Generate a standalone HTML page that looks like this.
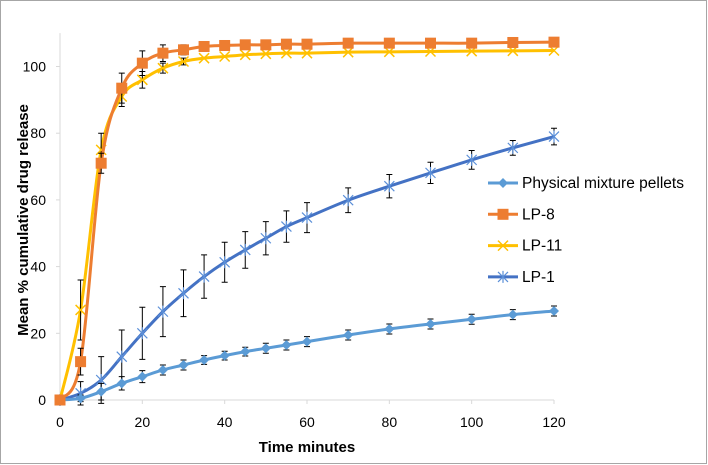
<!DOCTYPE html>
<html><head><meta charset="utf-8"><style>
body{margin:0;background:#fff;}
svg{display:block;font-family:"Liberation Sans",sans-serif;}
</style></head><body>
<svg id="chart" width="708" height="465">
<rect x="0.5" y="0.5" width="706" height="463" fill="#fff" stroke="#a6a6a6"/>
<g id="axes"></g><g id="plot"></g><g id="legend"></g>
<text x="28" y="220" font-size="15" font-weight="bold" text-anchor="middle" transform="rotate(-90 28 220)">Mean % cumulative drug release</text>
<text x="307" y="452" font-size="15" font-weight="bold" text-anchor="middle">Time minutes</text>
</svg>
<script>
const times=[0,5,10,15,20,25,30,35,40,45,50,55,60,70,80,90,100,110,120];
const pmVals=[0,0.5,2.5,5,7,9,10.5,12,13.3,14.5,15.5,16.5,17.5,19.5,21.3,22.8,24.2,25.6,26.7];
const pmErr=[0,1,2.5,2,1.8,1.5,1.5,1.3,1.3,1.3,1.5,1.5,1.5,1.5,1.5,1.5,1.5,1.5,1.5];
const lp8Vals=[0,11.5,71,93.5,101,104,105,106,106.3,106.5,106.5,106.7,106.7,107,107,107,107,107.2,107.3];
const lp8Err=[0,4,3,4.5,3.7,2.5,1.5,0,0,0,0,0,0,0,0,0,0,0,0];
const lp11Vals=[0,27,75,91,96,99.5,101.5,102.5,103,103.5,103.8,104,104,104.3,104.4,104.5,104.6,104.7,104.8];
const lp11Err=[0,9,5,3,2.5,1.5,1,0,0,0,0,0,0,0,0,0,0,0,0];
const lp1Vals=[0,2,6,13,20,26.5,32,37,41.3,45,48.5,52,54.7,59.9,64.1,68.1,72,75.6,79];
const lp1Err=[0,3.5,7,8,7.8,7.5,7,6.5,6,5.5,5,4.7,4.5,3.7,3.5,3.2,2.8,2.2,2.5];
const xTicks=[0,20,40,60,80,100,120];
const yTicks=[0,20,40,60,80,100];
const NS='http://www.w3.org/2000/svg';
const X=v=>60+v*(494/120);
const Y=v=>400-v*3.335;
function mk(t,a,p){const e=document.createElementNS(NS,t);for(const k in a)e.setAttribute(k,a[k]);(p||document.getElementById('plot')).appendChild(e);return e;}
const ax=document.getElementById('axes');
const yl=mk('line',{x1:60,y1:Y(0),x2:60,y2:Y(110),stroke:'#d9d9d9'},ax);


const xl=mk('line',{x1:60,y1:Y(0),x2:X(120),y2:Y(0),stroke:'#d9d9d9'},ax);


yTicks.forEach(v=>{const t=mk('text',{x:46,y:Y(v)+5,'font-size':14,'text-anchor':'end',fill:'#000'},ax);t.textContent=v;


mk('line',{x1:56,y1:Y(v),x2:60,y2:Y(v),stroke:'#d9d9d9'},ax);});
xTicks.forEach(v=>{const t=mk('text',{x:X(v),y:427,'font-size':14,'text-anchor':'middle',fill:'#000'},ax);t.textContent=v;


mk('line',{x1:X(v),y1:Y(0),x2:X(v),y2:Y(0)+4,stroke:'#d9d9d9'},ax);});
function smooth(pts){let d=`M${pts[0][0]},${pts[0][1]}`;for(let i=0;i<pts.length-1;i++){const p0=pts[i-1]||pts[i],p1=pts[i],p2=pts[i+1],p3=pts[i+2]||p2;const c1=[p1[0]+(p2[0]-p0[0])/6,p1[1]+(p2[1]-p0[1])/6],c2=[p2[0]-(p3[0]-p1[0])/6,p2[1]-(p3[1]-p1[1])/6];d+=`C${c1[0]},${c1[1]} ${c2[0]},${c2[1]} ${p2[0]},${p2[1]}`;}return d;}
function marker(g,type,x,y,c){
 if(type==='diamond')mk('path',{d:`M${x},${y-5}L${x+5},${y}L${x},${y+5}L${x-5},${y}Z`,fill:c},g);
 else if(type==='square')mk('rect',{x:x-5.5,y:y-5.5,width:11,height:11,fill:c},g);
 else if(type==='x')mk('path',{d:`M${x-5},${y-5}L${x+5},${y+5}M${x-5},${y+5}L${x+5},${y-5}`,stroke:c,'stroke-width':1.5},g);
 else mk('path',{d:`M${x-5},${y-5}L${x+5},${y+5}M${x-5},${y+5}L${x+5},${y-5}M${x},${y-6}L${x},${y+6}`,stroke:c,'stroke-width':1.2},g);
}
const series=[
 {name:'LP-1',vals:lp1Vals,err:lp1Err,c:'#4472c4',m:'star',mc:'#5b8fd8'},
 {name:'Physical mixture pellets',vals:pmVals,err:pmErr,c:'#5b9bd5',m:'diamond',mc:'#5b9bd5'},
 {name:'LP-11',vals:lp11Vals,err:lp11Err,c:'#ffc000',m:'x',mc:'#ffc000'},
 {name:'LP-8',vals:lp8Vals,err:lp8Err,c:'#ed7d31',m:'square',mc:'#ed7d31'}];
series.forEach(s=>{
 const g=mk('g',{});
 
 
 const pts=times.map((t,i)=>[X(t),Y(s.vals[i])]);
 mk('path',{d:smooth(pts),fill:'none',stroke:s.c,'stroke-width':3},g);
 times.forEach((t,i)=>{
  const e=s.err[i];
  if(e>0){const x=X(t);mk('path',{d:`M${x},${Y(s.vals[i]-e)}V${Y(s.vals[i]+e)}M${x-3},${Y(s.vals[i]-e)}H${x+3}M${x-3},${Y(s.vals[i]+e)}H${x+3}`,stroke:'#000','stroke-width':1,fill:'none'},g);}
  marker(g,s.m,X(t),Y(s.vals[i]),s.mc);
 });
});
const lg=document.getElementById('legend');
const order=[series[1],series[3],series[2],series[0]];
order.forEach((s,i)=>{
 const y=183+i*31.3;
 const g=mk('g',{},lg);
 
 
 mk('line',{x1:488,y1:y,x2:518,y2:y,stroke:s.c,'stroke-width':3},g);
 marker(g,s.m,503,y,s.mc);
 const t=mk('text',{x:522,y:y+5,'font-size':15.5,fill:'#000'},g);t.textContent=s.name;
});
</script>
</body></html>
